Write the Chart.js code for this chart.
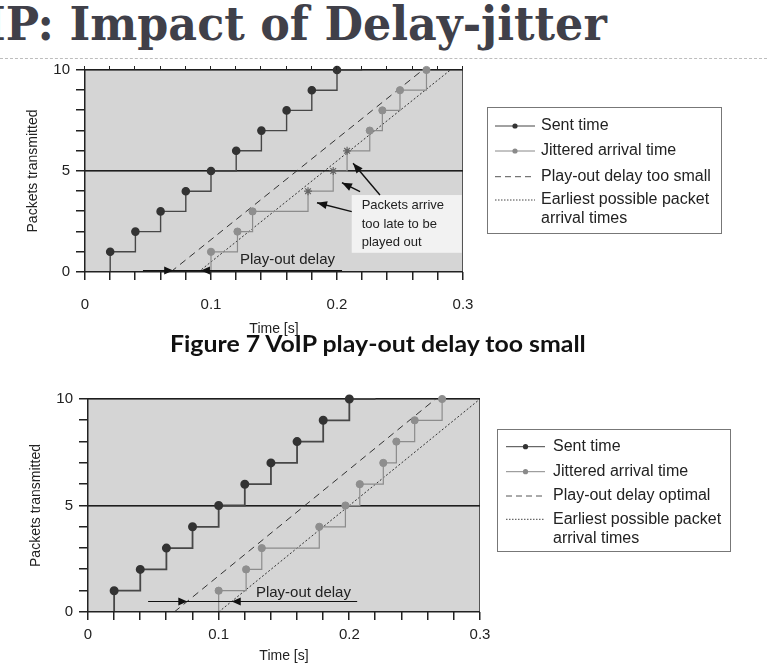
<!DOCTYPE html>
<html>
<head>
<meta charset="utf-8">
<script src="https://cdn.jsdelivr.net/npm/chart.js@4.4.1/dist/chart.umd.min.js"></script>
<style>
body{margin:0;width:767px;height:665px;overflow:hidden;background:#fff;position:relative;font-family:"Liberation Sans",Arial,sans-serif}
#title{position:absolute;top:1px;left:0;font:bold 46px/46px "DejaVu Serif",serif;color:#404049;white-space:nowrap;transform-origin:0 0}
#sep{position:absolute;left:0;top:58px;width:767px;border-top:1px dashed #bdbdbd}
#caption{position:absolute;top:333px;left:170px;font:bold 22px/22px Lato,sans-serif;color:#111;white-space:nowrap;transform-origin:0 0}
canvas{position:absolute;left:0}
</style>
</head>
<body>
<div id="title">IP: Impact of Delay-jitter</div>
<div id="sep"></div>
<canvas id="fig7" width="767" height="280" style="top:62px"></canvas>
<div id="caption">Figure 7 VoIP play-out delay too small</div>
<canvas id="fig8" width="767" height="275" style="top:390px"></canvas>
<script>
// values
const packets = [1, 2, 3, 4, 5, 6, 7, 8, 9, 10];
const sentTime = [0.02, 0.04, 0.06, 0.08, 0.10, 0.12, 0.14, 0.16, 0.18, 0.20];
const sentEndTime = 0.22;
const arrivalTime = [0.100, 0.121, 0.133, 0.177, 0.197, 0.208, 0.226, 0.236, 0.250, 0.271];
const latePackets = [4, 5, 6];          // marked as too late in figure 7
const lineY = [0, 10];
const playoutSmallX = [0.068, 0.268];
const earliestTopX = [0.090, 0.290];
const playoutOptimalX = [0.066, 0.266];
const earliestBottomX = [0.100, 0.300];
const xTickLabels = [0, 0.1, 0.2, 0.3];
const yTickLabels = [0, 5, 10];
const xMinorStep = 0.02;
const yMinorStep = 1;

const FAMILY = '"Liberation Sans", Arial, sans-serif';
Chart.defaults.font.family = FAMILY;

// fit the slide texts
function textWidth(font, s) {
  const c = document.createElement('canvas').getContext('2d');
  c.font = font;
  return c.measureText(s).width;
}
(function () {
  const tf = 'bold 46px "DejaVu Serif"';
  const s = 601 / textWidth(tf, 'P: Impact of Delay-jitter');
  const t = document.getElementById('title');
  t.style.left = (6 - s * textWidth(tf, 'I')) + 'px';
  t.style.transform = 'scale(' + s + ',1)';
  const cf = 'bold 22px Lato';
  const cs = 418 / textWidth(cf, 'Figure 7 VoIP play-out delay too small');
  document.getElementById('caption').style.transform = 'scale(' + cs + ',1)';
})();

function steps(xs, ys, tailX) {
  const pts = [{x: xs[0], y: 0}];
  xs.forEach((x, i) => pts.push({x: x, y: ys[i]}));
  if (tailX) pts.push({x: tailX, y: ys[ys.length - 1]});
  return pts;
}
function straight(xs) {
  return xs.map((x, i) => ({x: x, y: lineY[i]}));
}
const isMark = c => c.dataIndex > 0 && c.dataIndex <= packets.length;

function buildDatasets(late, dashX, dotX, sentW) {
  const lateStyle = c => isMark(c) && late.includes(packets[c.dataIndex - 1]);
  return [
    {
      label: 'Sent time', data: steps(sentTime, packets, sentEndTime), stepped: true,
      borderColor: '#474747', borderWidth: sentW, clip: 8,
      pointRadius: c => isMark(c) ? 3.6 : 0,
      pointBackgroundColor: '#333', pointBorderColor: '#333'
    },
    {
      label: 'Jittered arrival time', data: steps(arrivalTime, packets), stepped: true,
      borderColor: '#8c8c8c', borderWidth: 1.2, clip: 8,
      pointRadius: c => isMark(c) ? (lateStyle(c) ? 4 : 3.6) : 0,
      pointStyle: c => lateStyle(c) ? 'star' : 'circle',
      pointBackgroundColor: '#8e8e8e',
      pointBorderColor: c => lateStyle(c) ? '#666' : '#8e8e8e',
      pointBorderWidth: c => lateStyle(c) ? 1.2 : 1
    },
    {
      label: 'dash', data: straight(dashX), borderColor: '#333', borderWidth: 1,
      borderDash: [7, 5], pointRadius: 0
    },
    {
      label: 'dot', data: straight(dotX), borderColor: '#333', borderWidth: 1,
      borderDash: [2, 2], pointRadius: 0
    }
  ];
}

function scales(cfg) {
  return {
    x: {
      type: 'linear', min: 0, max: 0.3,
      ticks: {
        stepSize: xMinorStep, autoSkip: false, maxRotation: 0, padding: cfg.xPad,
        color: '#222', font: {size: 15},
        callback: v => {
          const t = xTickLabels.find(t => Math.abs(t - v) < 1e-6);
          return t === undefined ? '' : String(t);
        }
      },
      grid: {display: false, drawTicks: false},
      border: {display: false},
      title: {display: true, text: 'Time [s]', color: '#222', font: {size: 14}, padding: 0},
      afterFit: s => { s.height = cfg.xH; s.paddingLeft = 0; s.paddingRight = 0; }
    },
    y: {
      min: 0, max: 10,
      ticks: {
        stepSize: yMinorStep, autoSkip: false, padding: 15, color: '#222', font: {size: 15},
        callback: v => yTickLabels.includes(v) ? String(v) : ''
      },
      grid: {display: false, drawTicks: false},
      border: {display: false},
      title: {display: true, text: 'Packets transmitted', color: '#222', font: {size: 14}, padding: 0},
      afterFit: s => { s.width = 60; s.paddingTop = 0; s.paddingBottom = 0; }
    }
  };
}

function arrowHead(ctx, tx, ty, ang, len, half) {
  const c = Math.cos(ang), s = Math.sin(ang);
  ctx.beginPath();
  ctx.moveTo(tx, ty);
  ctx.lineTo(tx - len * c + half * s, ty - len * s - half * c);
  ctx.lineTo(tx - len * c - half * s, ty - len * s + half * c);
  ctx.closePath();
  ctx.fill();
}
const atLine = (xs, y) => xs[0] + (xs[1] - xs[0]) * y / 10;

// grey plot area, frame, tick marks and the y = 5 rule
function areaPlugin(topTicks) {
  return {
    id: 'area',
    beforeDraw(chart) {
      const {ctx, chartArea: a} = chart;
      ctx.save();
      ctx.fillStyle = '#d5d5d5';
      ctx.fillRect(a.left, a.top, a.right - a.left, a.bottom - a.top);
      ctx.restore();
    },
    beforeDatasetsDraw(chart) {
      const {ctx, chartArea: a} = chart;
      const ys = chart.scales.y;
      ctx.save();
      ctx.fillStyle = '#555';
      ctx.fillRect(Math.round(a.right) - 1, Math.round(a.top), 1, Math.round(a.bottom - a.top));
      ctx.fillStyle = '#1e1e1e';
      ctx.fillRect(Math.round(a.left), Math.round(a.top) - 1, Math.round(a.right - a.left), 1.6);
      const y5 = Math.round(ys.getPixelForValue(5));
      ctx.fillRect(Math.round(a.left), y5 - 1, Math.round(a.right - a.left), 1.6);
      ctx.restore();
    },
    afterDraw(chart) {
      const {ctx, chartArea: a} = chart;
      const L = Math.round(a.left), B = Math.round(a.bottom), T = Math.round(a.top);
      ctx.save();
      ctx.fillStyle = '#222';
      ctx.fillRect(L - 1, B - 1, Math.round(a.right) - L + 1, 1.5);
      ctx.fillRect(L - 1, T, 1.5, B - T);
      for (let v = 0; v <= 10 + 1e-9; v += yMinorStep) {
        const y = Math.round(chart.scales.y.getPixelForValue(v));
        ctx.fillRect(L - 9, y - 1, 9, 1.5);
      }
      for (let i = 0; i * xMinorStep <= 0.3 + 1e-9; i++) {
        const x = Math.round(chart.scales.x.getPixelForValue(i * xMinorStep));
        ctx.fillRect(x - 1, B, 1.5, 8);
        if (topTicks) ctx.fillRect(x - 1, T - 4, 1, 4);
      }
      ctx.restore();
    }
  };
}

function notesPlugin(n) {
  return {
    id: 'notes',
    afterDraw(chart) {
      const {ctx} = chart;
      const xs = chart.scales.x, ys = chart.scales.y;
      const px = v => xs.getPixelForValue(v), py = v => ys.getPixelForValue(v);
      ctx.save();
      ctx.fillStyle = '#111';
      ctx.strokeStyle = '#111';
      // play-out delay arrows
      const yA = Math.round(py(n.arrowY)) + 0.5;
      ctx.lineWidth = 1.2;
      ctx.beginPath();
      ctx.moveTo(px(n.arrowFrom), yA);
      ctx.lineTo(px(n.arrowTo), yA);
      ctx.stroke();
      arrowHead(ctx, px(atLine(n.dashX, n.arrowY)), yA, 0, 9, 4);
      arrowHead(ctx, px(atLine(n.dotX, n.arrowY)), yA, Math.PI, 9, 4);
      ctx.font = '15px ' + FAMILY;
      ctx.fillStyle = '#222';
      ctx.textBaseline = 'alphabetic';
      ctx.fillText('Play-out delay', px(n.textX), py(n.textY));
      // late-packet note
      if (n.box) {
        const b = n.box;
        ctx.fillStyle = '#f2f2f2';
        ctx.fillRect(px(b.x0), py(b.y1), px(b.x1) - px(b.x0), py(b.y0) - py(b.y1));
        ctx.fillStyle = '#222';
        ctx.font = '13px ' + FAMILY;
        ctx.textBaseline = 'middle';
        b.lines.forEach((t, i) => ctx.fillText(t, px(b.textX), py(b.lineY[i])));
        ctx.fillStyle = '#111';
        ctx.lineWidth = 1.4;
        b.arrows.forEach(a => {
          const k = a.packet - 1;
          const tx = px(arrivalTime[k]) + a.dx, ty = py(packets[k]) + a.dy;
          const sx = px(a.x), sy = py(a.y);
          ctx.beginPath();
          ctx.moveTo(sx, sy);
          ctx.lineTo(tx, ty);
          ctx.stroke();
          arrowHead(ctx, tx, ty, Math.atan2(ty - sy, tx - sx), 10, 4);
        });
      }
      // legend
      const L = n.legend;
      ctx.fillStyle = '#fff';
      ctx.fillRect(L.x0, L.y0, L.x1 - L.x0, L.y1 - L.y0);
      ctx.strokeStyle = '#777';
      ctx.lineWidth = 1;
      ctx.strokeRect(L.x0 + 0.5, L.y0 + 0.5, L.x1 - L.x0, L.y1 - L.y0);
      ctx.font = '16px ' + FAMILY;
      ctx.textBaseline = 'middle';
      L.items.forEach((it, i) => {
        const y = L.rows[i];
        ctx.strokeStyle = it.color;
        ctx.lineWidth = 1;
        ctx.setLineDash(it.dash || []);
        ctx.beginPath();
        ctx.moveTo(L.sx0, y);
        ctx.lineTo(L.sx1, y);
        ctx.stroke();
        ctx.setLineDash([]);
        if (it.dot) {
          ctx.fillStyle = it.dot;
          ctx.beginPath();
          ctx.arc((L.sx0 + L.sx1) / 2, y, 2.6, 0, Math.PI * 2);
          ctx.fill();
        }
        ctx.fillStyle = '#222';
        ctx.fillText(it.text, L.tx, y);
        if (it.text2) ctx.fillText(it.text2, L.tx, L.rows[i + 1]);
      });
      ctx.restore();
    }
  };
}

function legendItems(dashText) {
  return [
    {text: 'Sent time', color: '#444', dot: '#333'},
    {text: 'Jittered arrival time', color: '#888', dot: '#8a8a8a'},
    {text: dashText, color: '#555', dash: [6, 4]},
    {text: 'Earliest possible packet', text2: 'arrival times', color: '#444', dash: [1.5, 1.5]}
  ];
}

new Chart(document.getElementById('fig7'), {
  type: 'line',
  data: {datasets: buildDatasets(latePackets, playoutSmallX, earliestTopX, 1.4)},
  options: {
    responsive: false, animation: false,
    layout: {padding: {left: 25, right: 304, top: 8, bottom: 4}},
    plugins: {legend: {display: false}, tooltip: {enabled: false}},
    scales: scales({xPad: 24, xH: 66})
  },
  plugins: [areaPlugin(true), notesPlugin({
    dashX: playoutSmallX, dotX: earliestTopX,
    arrowY: 0.1, arrowFrom: 0.046, arrowTo: 0.204, textX: 0.123, textY: 0.38,
    box: {
      x0: 0.2117, x1: 0.299, y0: 0.95, y1: 3.81, textX: 0.2196,
      lines: ['Packets arrive', 'too late to be', 'played out'], lineY: [3.28, 2.38, 1.47],
      arrows: [
        {packet: 4, x: 0.2117, y: 2.99, dx: 9, dy: 11.5},
        {packet: 5, x: 0.2183, y: 3.98, dx: 8.7, dy: 11.7},
        {packet: 6, x: 0.2341, y: 3.81, dx: 6, dy: 12.5}
      ]
    },
    legend: {
      x0: 487, x1: 721, y0: 45, y1: 171, sx0: 495, sx1: 535, tx: 541,
      rows: [64, 89, 114.7, 138, 156.3], items: legendItems('Play-out delay too small')
    }
  })]
});

new Chart(document.getElementById('fig8'), {
  type: 'line',
  data: {datasets: buildDatasets([], playoutOptimalX, earliestBottomX, 1.8)},
  options: {
    responsive: false, animation: false,
    layout: {padding: {left: 28, right: 287, top: 9, bottom: 0}},
    plugins: {legend: {display: false}, tooltip: {enabled: false}},
    scales: scales({xPad: 14, xH: 53})
  },
  plugins: [areaPlugin(false), notesPlugin({
    dashX: playoutOptimalX, dotX: earliestBottomX,
    arrowY: 0.5, arrowFrom: 0.046, arrowTo: 0.206, textX: 0.1285, textY: 0.71,
    legend: {
      x0: 497, x1: 730, y0: 39, y1: 161, sx0: 506, sx1: 545, tx: 553,
      rows: [56.7, 81.7, 106, 129.3, 148.3], items: legendItems('Play-out delay optimal')
    }
  })]
});
</script>
</body>
</html>
